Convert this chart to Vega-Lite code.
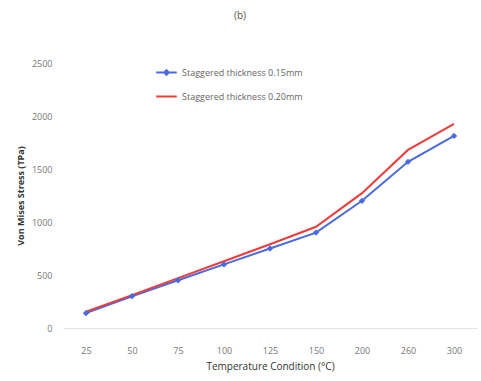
{
  "$schema": "https://vega.github.io/schema/vega-lite/v6.json",
  "width": 414,
  "height": 265,
  "autosize": "none",
  "padding": {"left": 63, "top": 63, "right": 4, "bottom": 53},
  "background": "white",
  "title": {"text": "(b)", "fontSize": 10, "font": "Open Sans", "fontWeight": "normal", "color": "#555", "anchor": "middle", "dx": -30, "offset": 38},
  "config": {"view": {"stroke": null}, "font": "Open Sans"},
  "data": {"values": [
    {"temp": "25", "series": "Staggered thickness 0.15mm", "stress": 140},
    {"temp": "50", "series": "Staggered thickness 0.15mm", "stress": 300},
    {"temp": "75", "series": "Staggered thickness 0.15mm", "stress": 450},
    {"temp": "100", "series": "Staggered thickness 0.15mm", "stress": 600},
    {"temp": "125", "series": "Staggered thickness 0.15mm", "stress": 750},
    {"temp": "150", "series": "Staggered thickness 0.15mm", "stress": 900},
    {"temp": "200", "series": "Staggered thickness 0.15mm", "stress": 1200},
    {"temp": "260", "series": "Staggered thickness 0.15mm", "stress": 1568},
    {"temp": "300", "series": "Staggered thickness 0.15mm", "stress": 1812},
    {"temp": "25", "series": "Staggered thickness 0.20mm", "stress": 155},
    {"temp": "50", "series": "Staggered thickness 0.20mm", "stress": 310},
    {"temp": "75", "series": "Staggered thickness 0.20mm", "stress": 470},
    {"temp": "100", "series": "Staggered thickness 0.20mm", "stress": 630},
    {"temp": "125", "series": "Staggered thickness 0.20mm", "stress": 790},
    {"temp": "150", "series": "Staggered thickness 0.20mm", "stress": 955},
    {"temp": "200", "series": "Staggered thickness 0.20mm", "stress": 1272},
    {"temp": "260", "series": "Staggered thickness 0.20mm", "stress": 1680},
    {"temp": "300", "series": "Staggered thickness 0.20mm", "stress": 1925}
  ]},
  "encoding": {
    "x": {"field": "temp", "type": "ordinal", "sort": null,
      "scale": {"type": "point", "padding": 0.5},
      "axis": {"title": "Temperature Condition (°C)", "labelAngle": 0, "ticks": false, "domain": true, "domainColor": "#e4e4e4", "labelColor": "#777", "labelFontSize": 9, "labelPadding": 18, "titleFontSize": 10, "titleFontWeight": "normal", "titleColor": "#333", "titlePadding": 6}},
    "y": {"field": "stress", "type": "quantitative",
      "scale": {"domain": [0, 2500], "nice": false},
      "axis": {"title": "Von Mises Stress (TPa)", "format": "d", "values": [0, 500, 1000, 1500, 2000, 2500], "grid": false, "domain": false, "ticks": false, "labelColor": "#777", "labelFontSize": 9, "labelPadding": 11, "titleFontSize": 9, "titleFontWeight": "bold", "titleColor": "#333", "titlePadding": 6}},
    "color": {"field": "series", "type": "nominal",
      "scale": {"domain": ["Staggered thickness 0.15mm", "Staggered thickness 0.20mm"], "range": ["#4a6be0", "#f23a3a"]},
      "legend": {"title": null, "orient": "none", "legendX": 92, "legendY": -2, "symbolType": "stroke", "symbolSize": 420, "symbolStrokeWidth": 2, "labelFontSize": 9, "labelColor": "#666", "rowPadding": 6, "labelOffset": 4,
        "encode": {"symbols": {"update": {
          "shape": {"signal": "datum.value == 'Staggered thickness 0.15mm' ? 'M-1,0L1,0M-0.22,0L0,-0.22L0.22,0L0,0.22Z' : 'stroke'"},
          "fill": {"signal": "datum.value == 'Staggered thickness 0.15mm' ? '#4a6be0' : 'transparent'"}
        }}}}}
  },
  "layer": [
    {"mark": {"type": "line", "strokeWidth": 2}},
    {"transform": [{"filter": "datum.series == 'Staggered thickness 0.15mm'"}],
     "mark": {"type": "point", "shape": "diamond", "filled": true, "size": 40, "opacity": 1}}
  ]
}
